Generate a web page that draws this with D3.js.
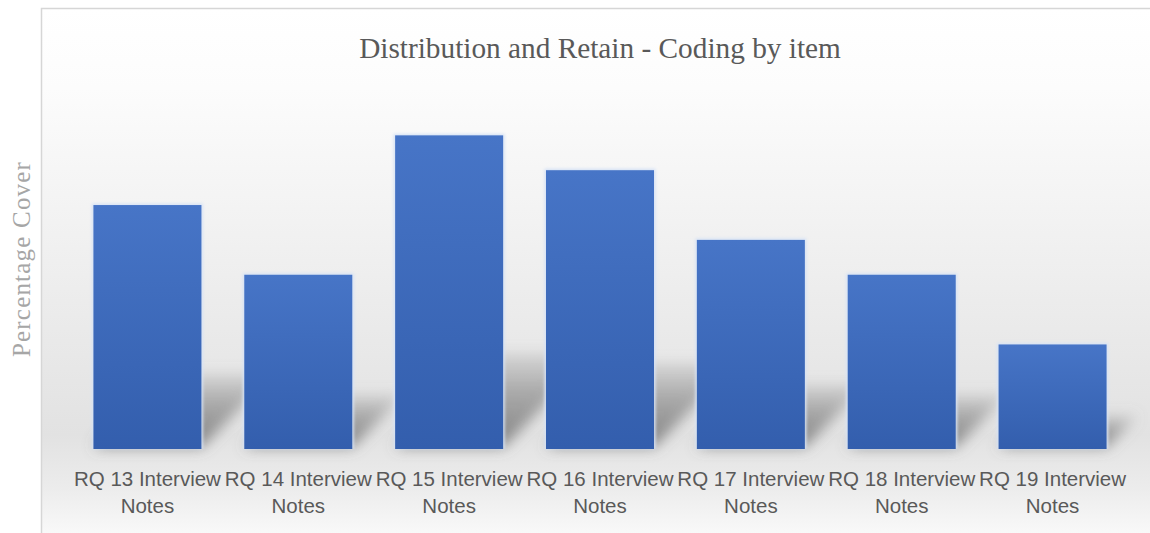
<!DOCTYPE html>
<html>
<head>
<meta charset="utf-8">
<script src="https://cdn.jsdelivr.net/npm/d3@7"></script>
<style>
  html, body { margin: 0; padding: 0; background: #ffffff; }
  svg { display: block; }
</style>
</head>
<body>
<svg id="chart" width="1150" height="533"></svg>
<script>
// ---- data ----
const categories = [
  "RQ 13 Interview Notes",
  "RQ 14 Interview Notes",
  "RQ 15 Interview Notes",
  "RQ 16 Interview Notes",
  "RQ 17 Interview Notes",
  "RQ 18 Interview Notes",
  "RQ 19 Interview Notes"
];
const labelLine1 = ["RQ 13 Interview", "RQ 14 Interview", "RQ 15 Interview", "RQ 16 Interview", "RQ 17 Interview", "RQ 18 Interview", "RQ 19 Interview"];
const labelLine2 = ["Notes", "Notes", "Notes", "Notes", "Notes", "Notes", "Notes"];
const values = [7, 5, 9, 8, 6, 5, 3];
const titleText = "Distribution and Retain - Coding by item";
const yTitle = "Percentage Cover";

// ---- layout ----
const W = 1150, H = 533;
const svg = d3.select("#chart");
const defs = svg.append("defs");

const bg = defs.append("linearGradient").attr("id", "bgGrad")
  .attr("x1", 0).attr("y1", 0).attr("x2", 0).attr("y2", 1);
[[0, "#ffffff"], [0.15, "#fcfcfc"], [0.5, "#eeeeee"], [0.8, "#e2e2e2"], [0.9, "#ececec"], [1, "#fbfbfb"]]
  .forEach(([o, c]) => bg.append("stop").attr("offset", o).attr("stop-color", c));

const barGrad = defs.append("linearGradient").attr("id", "barGrad")
  .attr("x1", 0).attr("y1", 0).attr("x2", 0).attr("y2", 1);
[[0, "#4775c7"], [1, "#335ead"]]
  .forEach(([o, c]) => barGrad.append("stop").attr("offset", o).attr("stop-color", c));

const shGrad = defs.append("linearGradient").attr("id", "shGrad")
  .attr("x1", 0).attr("y1", 1).attr("x2", 0).attr("y2", 0);
[[0, "#6a6a6a", 0.8], [0.6, "#7a7a7a", 0.55], [1, "#8a8a8a", 0.2]]
  .forEach(([o, c, a]) => shGrad.append("stop").attr("offset", o).attr("stop-color", c).attr("stop-opacity", a));

const blur = defs.append("filter").attr("id", "shadowBlur")
  .attr("x", "-50%").attr("y", "-50%").attr("width", "200%").attr("height", "200%");
blur.append("feGaussianBlur").attr("stdDeviation", 7);

const glow = defs.append("filter").attr("id", "glow")
  .attr("x", "-10%").attr("y", "-10%").attr("width", "120%").attr("height", "120%");
glow.append("feGaussianBlur").attr("stdDeviation", 1.5);

// chart area background + border
svg.append("rect")
  .attr("x", 41.5).attr("y", 8.5).attr("width", W).attr("height", H)
  .attr("fill", "url(#bgGrad)").attr("stroke", "#d6d6d6").attr("stroke-width", 1.5);

const x = d3.scaleBand().domain(categories).range([72, 1128]).paddingInner(0.284).paddingOuter(0.142);
const y = d3.scaleLinear().domain([0, 10]).range([449, 100.5]);

// perspective shadows
const gShadow = svg.append("g").attr("filter", "url(#shadowBlur)");
gShadow.selectAll("path").data(categories).join("path")
  .attr("d", (c, i) => {
    const x0 = x(c), x1 = x(c) + x.bandwidth();
    const base = y(0) - 2;
    const h = y(0) - y(values[i]);
    const dx = 0.3 * h, sh = 0.3 * h;
    return `M${x0},${base} L${x1},${base} L${x1 + dx},${base - sh} L${x0 + dx},${base - sh} Z`;
  })
  .attr("fill", "url(#shGrad)");

// bar glow
svg.append("g").selectAll("rect").data(categories).join("rect")
  .attr("x", c => x(c) - 1.5).attr("width", x.bandwidth() + 3)
  .attr("y", (c, i) => y(values[i]) - 1.5).attr("height", (c, i) => y(0) - y(values[i]) + 1.5)
  .attr("fill", "#d6e2f5").attr("filter", "url(#glow)");

// bars
svg.append("g").selectAll("rect").data(categories).join("rect")
  .attr("x", c => x(c)).attr("width", x.bandwidth())
  .attr("y", (c, i) => y(values[i])).attr("height", (c, i) => y(0) - y(values[i]))
  .attr("fill", "url(#barGrad)");

// x axis labels (no line/ticks)
const xAxis = d3.axisBottom(x).tickSize(0).tickFormat("");
const gx = svg.append("g").attr("transform", `translate(0,${y(0)})`).call(xAxis);
gx.select(".domain").remove();
gx.selectAll(".tick").each(function(c, i) {
  const t = d3.select(this).append("text")
    .attr("text-anchor", "middle")
    .attr("fill", "#595959")
    .attr("font-family", "'Liberation Sans', Arial, sans-serif")
    .attr("font-size", 20.5);
  t.append("tspan").attr("x", 0).attr("y", 37).text(labelLine1[i]);
  t.append("tspan").attr("x", 0).attr("y", 64).text(labelLine2[i]);
});

// title
svg.append("text")
  .attr("x", 600).attr("y", 58)
  .attr("text-anchor", "middle")
  .attr("fill", "#595959")
  .attr("font-family", "'Liberation Serif', 'Times New Roman', serif")
  .attr("font-size", 29.3)
  .text(titleText);

// y axis title
svg.append("text")
  .attr("transform", "translate(30,259) rotate(-90)")
  .attr("text-anchor", "middle")
  .attr("fill", "#a6a6a6")
  .attr("font-family", "'Liberation Serif', 'Times New Roman', serif")
  .attr("font-size", 25)
  .attr("letter-spacing", 1.2)
  .text(yTitle);
</script>
</body>
</html>
